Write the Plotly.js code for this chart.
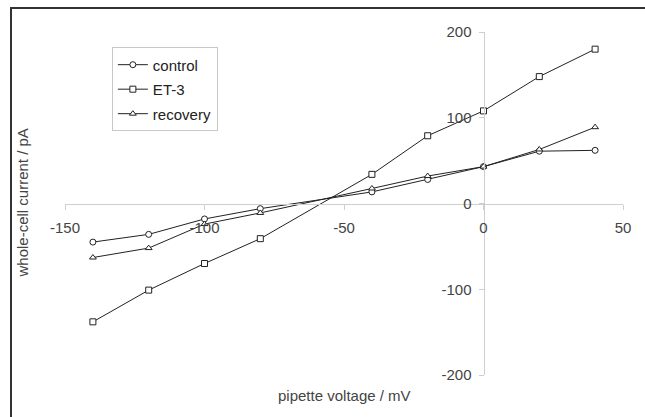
<!DOCTYPE html>
<html>
<head>
<meta charset="utf-8">
<script src="https://cdn.plot.ly/plotly-3.0.1.min.js"></script>
<style>
  html, body { margin: 0; padding: 0; background: #fff; }
  #wrap { position: relative; width: 645px; height: 417px; overflow: hidden; }
  #chart { position: absolute; left: 0; top: 0; width: 645px; height: 417px; }
  #frame { position: absolute; left: 10px; top: 7px; width: 700px; height: 500px;
           border-top: 2px solid #333; border-left: 2px solid #333; pointer-events: none; }
</style>
</head>
<body>
<div id="wrap">
  <div id="chart"></div>
  <div id="frame"></div>
</div>
<script>
// pipette voltage (mV)
const voltage = [-140, -120, -100, -80, -40, -20, 0, 20, 40];
// whole-cell current (pA)
const control  = [-45, -36, -18, -6, 13.5, 28, 43, 61, 62];
const et3      = [-138, -101, -70, -41, 34, 79, 108, 148, 180];
const recovery = [-63, -52, -24, -11, 17.5, 32, 43, 63, 89];

const seriesNames = ['control', 'ET-3', 'recovery'];
const xTicks = [-150, -100, -50, 0, 50];
const yTicks = [-200, -100, 0, 100, 200];

const lineCol = '#222';
function tr(y, name, sym) {
  return {
    x: voltage, y: y, name: name, legendgroup: name, type: 'scatter', mode: 'lines+markers',
    line: {color: lineCol, width: 1},
    marker: {symbol: sym, size: 6, color: '#fff', line: {color: lineCol, width: 1}}
  };
}
const data = [
  tr(control, seriesNames[0], 'circle'),
  tr(et3, seriesNames[1], 'square'),
  tr(recovery, seriesNames[2], 'triangle-up')
];

const font = {family: '"Liberation Sans", Arial, sans-serif', size: 15, color: '#444'};
const layout = {
  width: 645, height: 417,
  margin: {l: 65, r: 22, t: 32, b: 42},
  paper_bgcolor: '#fff', plot_bgcolor: 'rgba(0,0,0,0)',
  font: font,
  showlegend: true,
  legend: {
    x: 0.084, y: 0.955, xanchor: 'left', yanchor: 'top',
    traceorder: 'grouped', tracegroupgap: 2,
    bgcolor: '#fff', bordercolor: '#c8c8c8', borderwidth: 1,
    font: {family: font.family, size: 15, color: '#222'}
  },
  xaxis: {
    range: [-150, 50], tickvals: xTicks, ticktext: xTicks.map(String),
    anchor: 'free', position: 0.5, domain: [0, 1],
    showline: true, linecolor: '#cfcfcf', linewidth: 1,
    ticks: 'outside', ticklen: 5, tickcolor: '#cfcfcf',
    showgrid: false, zeroline: false, ticklabelstandoff: 5,
    tickfont: {family: font.family, size: 15, color: '#444'}
  },
  yaxis: {
    range: [-200, 200], tickvals: yTicks, ticktext: yTicks.map(String),
    anchor: 'free', position: 0.75, domain: [0, 1],
    showline: true, linecolor: '#cfcfcf', linewidth: 1,
    ticks: 'outside', ticklen: 5, tickcolor: '#cfcfcf',
    showgrid: false, zeroline: false, ticklabelstandoff: 4,
    tickfont: {family: font.family, size: 15, color: '#444'}
  },
  annotations: [
    {text: 'pipette voltage / mV', xref: 'paper', yref: 'paper', x: 0.5, y: -0.061,
     showarrow: false, xanchor: 'center', yanchor: 'middle',
     font: {family: font.family, size: 15, color: '#444'}},
    {text: 'whole-cell current / pA', xref: 'paper', yref: 'paper', x: -0.077, y: 0.5,
     showarrow: false, xanchor: 'center', yanchor: 'middle', textangle: -90,
     font: {family: font.family, size: 15, color: '#444'}}
  ]
};

Plotly.newPlot('chart', data, layout, {displayModeBar: false, staticPlot: true});
</script>
</body>
</html>
